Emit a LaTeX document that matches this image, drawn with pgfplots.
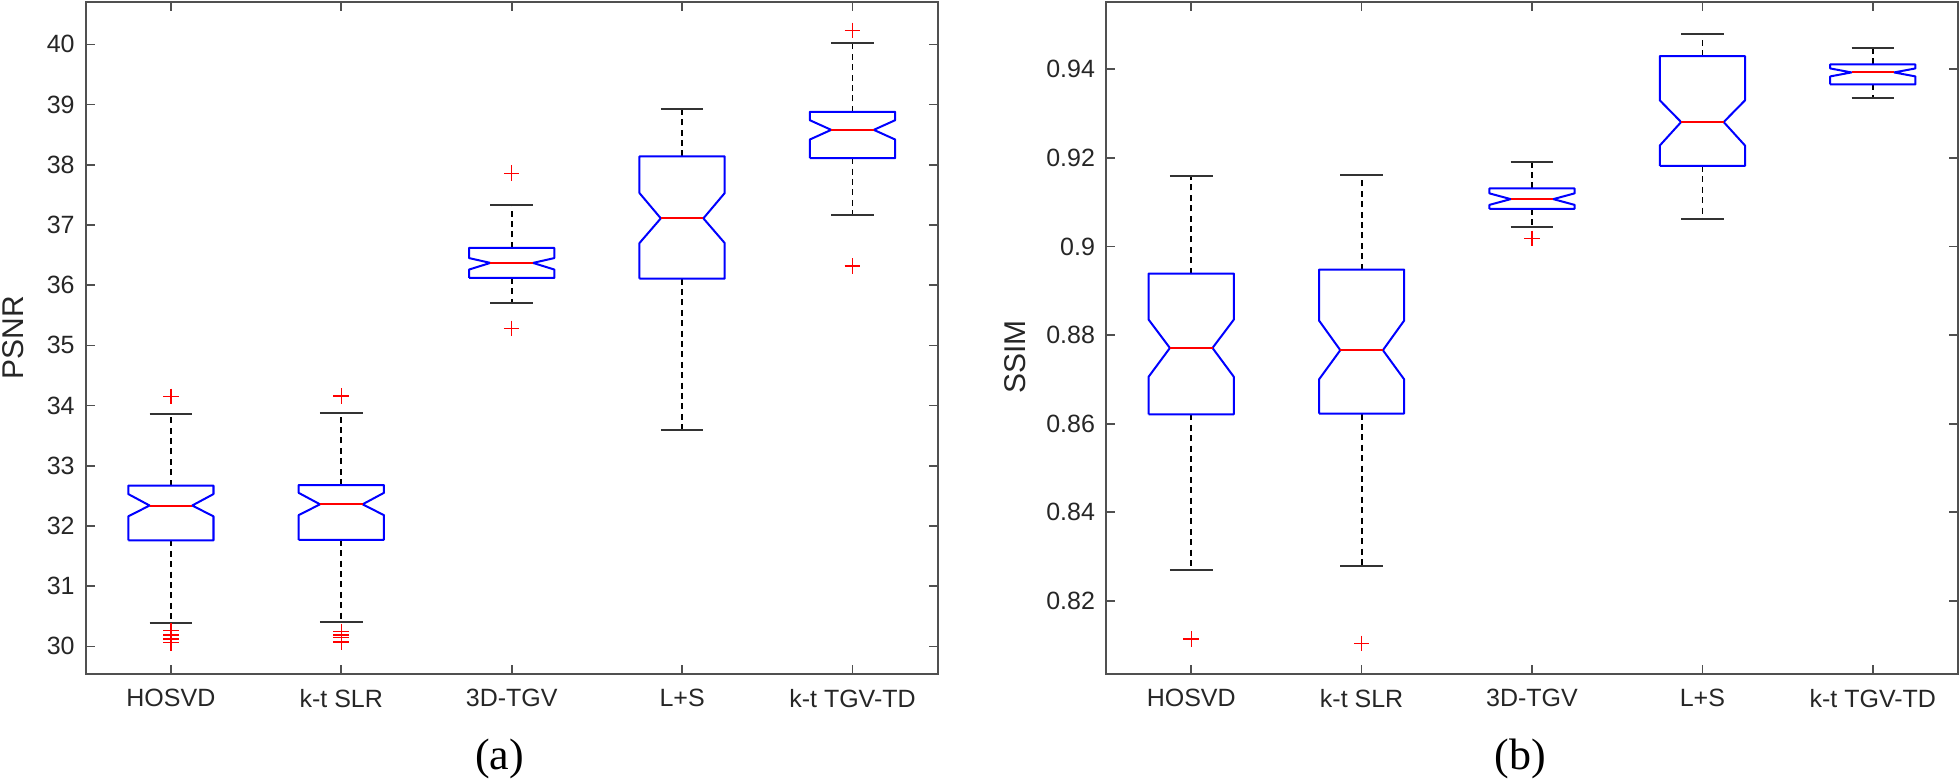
\documentclass[border=0pt]{standalone}
\usepackage{pgfplots}
\pgfplotsset{compat=1.18}
\usepackage{fontspec}
\setmainfont{Liberation Sans}
\newfontfamily\capfont{Liberation Serif}

\definecolor{mblue}{RGB}{0,0,255}
\definecolor{mred}{RGB}{255,0,0}
\definecolor{axgray}{RGB}{80,80,80}
\definecolor{txtgray}{RGB}{38,38,38}

% #1 position, #2 lower whisker, #3 q1, #4 notch low, #5 median, #6 notch high, #7 q3, #8 upper whisker
\newcommand{\nbox}[8]{%
  \pgfmathsetmacro\bxA{#1-0.25}%
  \pgfmathsetmacro\bxB{#1-0.125}%
  \pgfmathsetmacro\bxC{#1+0.125}%
  \pgfmathsetmacro\bxD{#1+0.25}%
  \addplot[black, line width=0.9pt, dash pattern=on 3pt off 2.2pt] coordinates {(#1,#7) (#1,#8)};
  \addplot[black, line width=0.9pt, dash pattern=on 3pt off 2.2pt] coordinates {(#1,#3) (#1,#2)};
  \addplot[black!80, line width=1pt] coordinates {(\bxB,#8) (\bxC,#8)};
  \addplot[black!80, line width=1pt] coordinates {(\bxB,#2) (\bxC,#2)};
  \addplot[mblue, line width=1pt, line join=round] coordinates {(\bxA,#3) (\bxA,#4) (\bxB,#5) (\bxA,#6) (\bxA,#7) (\bxD,#7) (\bxD,#6) (\bxC,#5) (\bxD,#4) (\bxD,#3) (\bxA,#3)};
  \addplot[mred, line width=1pt] coordinates {(\bxB,#5) (\bxC,#5)};
}

\pgfplotsset{mystyle/.style={
  scale only axis, width=426pt, height=336pt, anchor=south west,
  clip=false,
  xmin=0.5, xmax=5.5, xtick={1,2,3,4,5},
  xticklabels={HOSVD,k-t SLR,3D-TGV,L+S,k-t TGV-TD},
  tick align=inside, tick pos=both, major tick length=4.5pt,
  axis line style={axgray, line width=0.85pt},
  tick style={axgray, line width=0.85pt},
  ticklabel style={font=\fontsize{12.5}{15}\selectfont, text=txtgray},
  /pgf/number format/assume math mode=true,
  xticklabel style={yshift=-4pt},
  yticklabel style={xshift=-2pt},
  label style={font=\fontsize{15}{18}\selectfont, text=txtgray},
  outl/.style={only marks, mark=+, mark size=3.9pt, mred, mark options={line width=0.7pt}},
}}

\begin{document}
\begin{tikzpicture}
\useasboundingbox (-42.85pt,-54.5pt) rectangle (937.15pt,337pt);

\begin{axis}[mystyle, at={(0pt,0pt)},
  ymin=29.541, ymax=40.704, ytick={30,31,...,40},
  ylabel={PSNR}, ylabel style={at={(axis description cs:-0.0853,0.5)}, anchor=center}]
  \nbox{1}{30.38}{31.76}{32.16}{32.34}{32.53}{32.67}{33.86}
  \nbox{2}{30.40}{31.77}{32.18}{32.36}{32.55}{32.68}{33.87}
  \nbox{3}{35.71}{36.12}{36.26}{36.37}{36.45}{36.62}{37.34}
  \nbox{4}{33.59}{36.11}{36.70}{37.11}{37.53}{38.14}{38.92}
  \nbox{5}{37.16}{38.11}{38.42}{38.58}{38.74}{38.88}{40.02}
  \addplot[outl] coordinates {(1,34.15) (1,30.26) (1,30.19) (1,30.12) (1,30.06)
    (2,34.16) (2,30.25) (2,30.19) (2,30.15) (2,30.07)
    (3,37.86) (3,35.28) (5,40.23) (5,36.32)};
  \node[anchor=base, font=\capfont\fontsize{22}{26}\selectfont] at (axis description cs:0.486,-0.1414) {(a)};
\end{axis}

\begin{axis}[mystyle, at={(510.15pt,0pt)},
  ymin=0.8035, ymax=0.9552, ytick={0.82,0.84,0.86,0.88,0.9,0.92,0.94},
  yticklabels={0.82,0.84,0.86,0.88,0.9,0.92,0.94},
  ylabel={SSIM}, ylabel style={at={(axis description cs:-0.1068,0.472)}, anchor=center}]
  \nbox{1}{0.8269}{0.8621}{0.8706}{0.8771}{0.8835}{0.8939}{0.9160}
  \nbox{2}{0.8278}{0.8623}{0.8700}{0.8766}{0.8833}{0.8948}{0.9162}
  \nbox{3}{0.9044}{0.9085}{0.9094}{0.9107}{0.9120}{0.9131}{0.9191}
  \nbox{4}{0.9063}{0.9182}{0.9228}{0.9281}{0.9330}{0.9430}{0.9480}
  \nbox{5}{0.9336}{0.9366}{0.9384}{0.9393}{0.9402}{0.9411}{0.9449}
  \addplot[outl] coordinates {(1,0.8114) (2,0.8104) (3,0.9018)};
  \node[anchor=base, font=\capfont\fontsize{22}{26}\selectfont] at (axis description cs:0.486,-0.1414) {(b)};
\end{axis}
\end{tikzpicture}
\end{document}
